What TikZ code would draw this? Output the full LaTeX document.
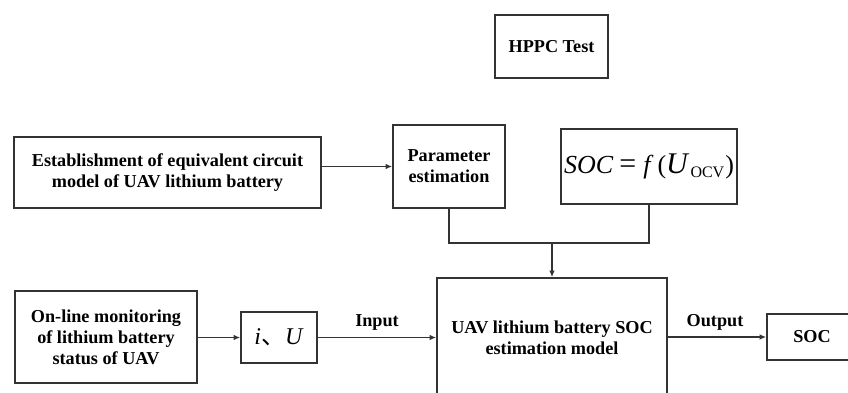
\documentclass[tikz,border=0pt]{standalone}
\usepackage{fontspec}
\setmainfont{Liberation Serif}
\newfontfamily\cjk{Noto Sans CJK SC}
\usetikzlibrary{arrows.meta}
\definecolor{ln}{HTML}{333333}
\begin{document}
\begin{tikzpicture}[x=1pt,y=-1pt,
  box/.style={draw=ln,line width=1.6pt,inner sep=0pt,align=center,
    font=\fontsize{18.2}{21}\selectfont\bfseries},
  lbl/.style={font=\fontsize{18.2}{21}\selectfont\bfseries,inner sep=0pt},
  conn/.style={draw=ln,line width=1.5pt},
  arr/.style={conn,-{Latex[length=6.5pt,width=5.5pt]}}]
\clip (0,0) rectangle (848,392);
\fill[white] (0,0) rectangle (848,392);
\node[box,minimum width=113,minimum height=63] (hppc) at (551.5,46.5) {HPPC Test};
\node[box,minimum width=307,minimum height=71] (est) at (167.5,172.5)
  {Establishment of equivalent circuit\\model of UAV lithium battery};
\node[box,minimum width=112,minimum height=83] (param) at (449,166.5)
  {Parameter\\estimation};
\node[box,minimum width=176,minimum height=75,font=\fontsize{26}{28}\selectfont] (socf) at (649,166.5)
  {\textit{SOC}\kern6pt{\fontsize{30}{30}\selectfont =}\kern7pt\textit{f}\kern4pt({\fontsize{30}{30}\selectfont\textit{U}}\kern1pt\raisebox{-4pt}{\fontsize{16}{16}\selectfont OCV}\kern1pt)};
\node[box,minimum width=230,minimum height=120] (main) at (552,338)
  {UAV lithium battery SOC\\estimation model};
\node[box,minimum width=182,minimum height=92] (mon) at (106,337)
  {On-line monitoring\\of lithium battery\\status of UAV};
\node[box,minimum width=76,minimum height=51,font=\fontsize{24}{26}\selectfont] (iu) at (279,337.5)
  {\textit{i}{\cjk\fontsize{24}{26}\selectfont 、}\textit{U}};
\node[box,minimum width=90,minimum height=46] (soc) at (812,337) {SOC};
\node[lbl] (inp) at (377,322) {Input};
\node[lbl] (outp) at (715,322) {Output};
\coordinate (jn) at (552,243);
\draw[arr] (est.east |- param.west) -- (param.west);
\draw[conn] (param.south) |- (socf.south |- jn) -- (socf.south);
\draw[arr] (main.north |- jn) -- (main.north);
\draw[arr] (mon.east |- iu.west) -- (iu.west);
\draw[arr] (iu.east) -- (main.west |- iu.east);
\draw[arr] (main.east |- soc.west) -- (soc.west);
\end{tikzpicture}
\end{document}
